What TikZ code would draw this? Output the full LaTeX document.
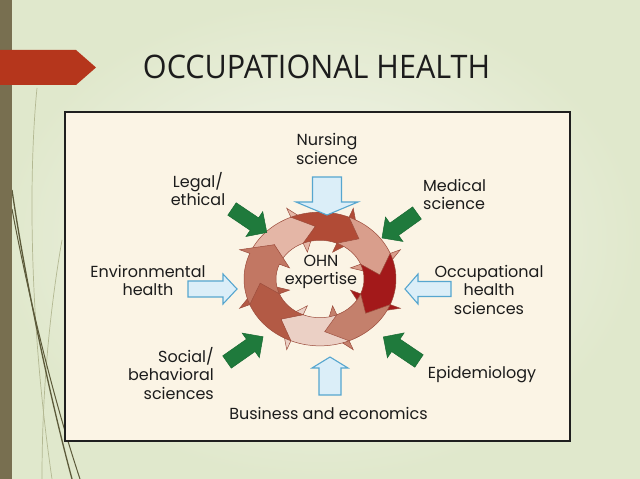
\documentclass[tikz,border=0pt]{standalone}
\usepackage{fontspec}
\usepackage{graphicx}
\setmainfont{Poppins}
\newfontfamily\titlefont{Open Sans}
\definecolor{bgin}{HTML}{F5F6EE}
\definecolor{bgout}{HTML}{E0E8CC}
\definecolor{strip}{HTML}{786F50}
\definecolor{banner}{HTML}{B5361C}
\definecolor{boxfill}{HTML}{FBF4E5}
\definecolor{txt}{HTML}{1C1C1C}
\definecolor{lblue}{HTML}{DBEEF8}
\definecolor{dblue}{HTML}{56A6CF}
\definecolor{gfill}{HTML}{1F7A3C}
\definecolor{gdraw}{HTML}{186A32}
\definecolor{ohA}{HTML}{E4B6A6}
\definecolor{ohB}{HTML}{B14B36}
\definecolor{ohC}{HTML}{D99E8C}
\definecolor{ohD}{HTML}{A3191A}
\definecolor{ohE}{HTML}{C4806C}
\definecolor{ohF}{HTML}{EBD0C5}
\definecolor{ohG}{HTML}{B35A45}
\definecolor{ohH}{HTML}{C27763}
\definecolor{ringline}{HTML}{9B4B3B}
\definecolor{curvedark}{HTML}{5C5A3A}
\definecolor{curvelight}{HTML}{B3B892}
\newcommand\fatarr[7]{%
  \path[#1, shift={#2}, rotate=#3] (0,-#5) -- ({#4-#7},-#5) -- ({#4-#7},-#6) -- (#4,0)
    -- ({#4-#7},#6) -- ({#4-#7},#5) -- (0,#5) -- cycle;}
\tikzset{
  lbl/.style={inner sep=0pt, align=center, text=txt, font=\fontsize{16}{18.5}\selectfont},
  bluearr/.style={fill=lblue, draw=dblue, line width=1.1pt},
  greenarr/.style={fill=gfill, draw=gdraw, line width=0.5pt},
  ringarrow/.style={draw=ringline, line width=0.5pt},
}
\begin{document}
\begin{tikzpicture}[x=1pt,y=1pt]
\useasboundingbox (0,0) rectangle (640,479);
% background
\shade[inner color=bgin, outer color=bgout] (0,0) rectangle (640,479);
% decorative curves
\draw[curvelight, line width=0.7pt] (37,391) .. controls (28,300) and (30,150) .. (52,0);
\draw[curvelight, line width=0.7pt] (62,239) .. controls (50,170) and (42,90) .. (42,0);
\draw[curvedark, line width=1.3pt] (12,289) .. controls (22,220) and (45,100) .. (72,0);
\draw[curvedark, line width=1pt] (12,270) .. controls (25,200) and (50,90) .. (80,0);
% left strip and banner
\fill[strip] (0,0) rectangle (12,479);
\fill[banner] (0,429) -- (76,429) -- (96,411.5) -- (76,394) -- (0,394) -- cycle;
\node[inner sep=0pt, text=txt] (title) at (316.5,412.5) {\resizebox{347pt}{23.5pt}{\titlefont OCCUPATIONAL HEALTH}};
% frame
\draw[line width=1.8pt, draw=black!88, fill=boxfill] (65,38) rectangle (570,367);
% ring of arrows
\begin{scope}[shift={(320,200)}, yscale=0.88]
\foreach \b/\c in {112.5/ohA, 67.5/ohB, 22.5/ohC, -22.5/ohD, -67.5/ohE, -112.5/ohF, -157.5/ohG, -202.5/ohH} {
  \pgfmathsetmacro\T{\b+45}
  \pgfmathsetmacro\N{\b+27}
  \pgfmathsetmacro\P{\b-18}
  \path[ringarrow, fill=\c] (\T:76) arc[start angle=\T, end angle=\b, radius=76]
    -- (\b:87) -- (\P:60) -- (\b:33) -- (\b:44)
    arc[start angle=\b, end angle=\T, radius=44] -- (\N:60) -- cycle;
}
\end{scope}
% light blue arrows
\fatarr{bluearr}{(327,302)}{-90}{38}{14.5}{31}{13}
\fatarr{bluearr}{(330,84)}{90}{38}{11}{18}{11}
\fatarr{bluearr}{(188,190)}{0}{49}{8}{15}{14}
\fatarr{bluearr}{(451,190)}{180}{46}{7.5}{15}{13}
% green arrows
\fatarr{greenarr}{(232,270)}{-34}{42}{7.5}{15}{15}
\fatarr{greenarr}{(417,266)}{-144.5}{43}{7.5}{15}{15}
\fatarr{greenarr}{(227,117)}{35}{44}{7.5}{15}{15}
\fatarr{greenarr}{(419,118)}{146}{43}{7.5}{15}{15}
% labels
\node[lbl] (nurs) at (327,330) {Nursing\\science};
\node[lbl] (legal) at (198,290) {Legal/\\ethical};
\node[lbl, align=left, anchor=west] (med) at (423,284.5) {Medical\\science};
\node[lbl] (env) at (148,198.5) {Environmental\\health};
\node[lbl] (occ) at (489,189.5) {Occupational\\health\\sciences};
\node[lbl, align=right, anchor=east] (soc) at (214,105.5) {Social/\\behavioral\\sciences};
\node[lbl] (epi) at (482,104) {Epidemiology};
\node[lbl] (bus) at (328.5,66) {Business and economics};
\node[lbl] (ohn) at (321,207) {OHN\\expertise};
\end{tikzpicture}
\end{document}
